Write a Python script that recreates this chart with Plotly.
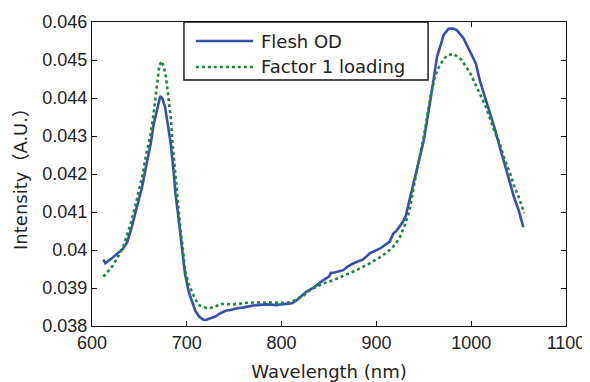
import plotly.graph_objects as go

# Flesh OD
flesh_nm = [612, 614, 621, 627, 633, 637, 642, 647, 653, 657, 662, 665, 669, 672, 674, 677, 680, 683,
            686, 688, 691, 693, 696, 698, 702, 706, 709, 713, 717, 720, 724, 730, 735, 741, 746, 752,
            760, 770, 784, 795, 800, 805, 811, 816, 821, 826, 835, 844, 850, 852, 855, 865, 870, 876,
            886, 893, 904, 911, 914, 918, 921, 928, 931, 935, 942, 950, 957, 964, 971, 976, 981, 985,
            992, 1000, 1005, 1009, 1015, 1020, 1025, 1030, 1035, 1041, 1045, 1050, 1055]
flesh_val = [0.03975, 0.03965, 0.03978, 0.0399, 0.04004, 0.0402, 0.04061, 0.0411, 0.04167, 0.0422,
             0.04281, 0.0433, 0.04377, 0.04405, 0.04400, 0.04377, 0.0433, 0.04281, 0.0421, 0.04149,
             0.0409, 0.04044, 0.0399, 0.03939, 0.0389, 0.0386, 0.0384, 0.03825, 0.03817, 0.03816,
             0.0382, 0.03825, 0.03833, 0.0384, 0.03842, 0.03846, 0.03849, 0.03854, 0.03857, 0.03855,
             0.03857, 0.03858, 0.0386, 0.03868, 0.0388, 0.0389, 0.03903, 0.03921, 0.0393, 0.0394,
             0.0394, 0.03947, 0.03957, 0.03965, 0.03975, 0.03991, 0.04004, 0.04015, 0.04022, 0.04044,
             0.0405, 0.04074, 0.0409, 0.04132, 0.04202, 0.04289, 0.04395, 0.04509, 0.04566, 0.04582,
             0.04583, 0.04578, 0.04557, 0.04518, 0.0449, 0.04447, 0.044, 0.0436, 0.04318, 0.04272,
             0.04225, 0.04176, 0.0414, 0.04105, 0.0406]

# Factor 1 loading
factor_nm = [612, 617, 621, 627, 633, 637, 642, 647, 653, 657, 662, 665, 669, 671, 673.5, 676, 678, 680,
             683, 685, 688, 690, 693, 696, 698, 702, 706, 709, 713, 717, 721, 726, 730, 737, 749, 767,
             784, 802, 810, 816, 823, 830, 844, 855, 865, 879, 893, 904, 914, 920, 925, 930, 935, 942,
             950, 957, 962, 967, 974, 981, 985, 990, 999, 1004, 1009, 1015, 1020, 1025, 1030, 1035,
             1041, 1045, 1050, 1056]
factor_val = [0.0393, 0.03945, 0.03956, 0.0398, 0.04009, 0.0404, 0.04079, 0.0413, 0.04193, 0.0425,
              0.04307, 0.0436, 0.04447, 0.04485, 0.04497, 0.0448, 0.04456, 0.0441, 0.04351, 0.0428,
              0.04193, 0.0413, 0.04061, 0.04, 0.03947, 0.0391, 0.03886, 0.0387, 0.03855, 0.0385,
              0.03847, 0.03848, 0.03851, 0.03858, 0.03857, 0.03862, 0.03862, 0.03861, 0.03863, 0.0387,
              0.0388, 0.03895, 0.03912, 0.03921, 0.03932, 0.03947, 0.03965, 0.03981, 0.04, 0.04015,
              0.04035, 0.04065, 0.04105, 0.04202, 0.04298, 0.04402, 0.0446, 0.04487, 0.04511, 0.04516,
              0.0451, 0.045, 0.04465, 0.0444, 0.04412, 0.0438, 0.04342, 0.0431, 0.04281, 0.0424,
              0.04202, 0.0417, 0.0414, 0.04097]

series_names = ["Flesh OD", "Factor 1 loading"]
series_colors = ["#3651ab", "#17873a"]

x_ticks = [600, 700, 800, 900, 1000, 1100]
x_tick_labels = ["600", "700", "800", "900", "1000", "1100"]
y_ticks = [0.038, 0.039, 0.040, 0.041, 0.042, 0.043, 0.044, 0.045, 0.046]
y_tick_labels = ["0.038", "0.039", "0.04", "0.041", "0.042", "0.043", "0.044", "0.045", "0.046"]

TICK_FONT = "Liberation Sans, Arial, sans-serif"
TEXT_FONT = "DejaVu Sans, Noto Sans CJK JP, sans-serif"

fig = go.Figure()
fig.add_trace(go.Scatter(x=flesh_nm, y=flesh_val, mode="lines", name=series_names[0],
                         line=dict(color=series_colors[0], width=2.6), showlegend=False))
fig.add_trace(go.Scatter(x=factor_nm, y=factor_val, mode="lines", name=series_names[1],
                         line=dict(color=series_colors[1], width=2.6, dash="dot"), showlegend=False))

axis_common = dict(showline=True, linecolor="#111", linewidth=1.2, mirror="ticks",
                   ticks="inside", ticklen=5, tickcolor="#111", showgrid=False, zeroline=False,
                   automargin=False, ticklabeloverflow="allow",
                   tickfont=dict(family=TICK_FONT, size=18, color="#222"))

# The page body adds an 8px offset, so the figure is 8px smaller on each axis.
fig.update_layout(
    width=582, height=374,
    margin=dict(l=84, r=24, t=14, b=56),
    paper_bgcolor="white", plot_bgcolor="white",
    font=dict(family=TEXT_FONT, color="#222"),
    xaxis=dict(range=[600, 1100], tickvals=x_ticks, ticktext=x_tick_labels,
               title=dict(text="Wavelength (nm)", font=dict(family=TEXT_FONT, size=18), standoff=17),
               **axis_common),
    yaxis=dict(range=[0.038, 0.046], tickvals=y_ticks, ticktext=y_tick_labels, **axis_common),
    showlegend=False,
)

# Y-axis title placed as rotated text left of the tick labels
fig.add_annotation(xref="paper", yref="paper", x=-0.152, y=0.5, text="Intensity\uff08A.U.\uff09",
                   textangle=-90, showarrow=False, xanchor="center", yanchor="middle",
                   font=dict(family=TEXT_FONT, size=18, color="#222"))

# Legend box drawn in the plot-area (paper) frame
box = dict(x0=0.194, x1=0.709, y0=0.809, y1=1.0)
fig.add_shape(type="rect", xref="paper", yref="paper", **box,
              line=dict(color="#111", width=1.4), fillcolor="white", layer="above")
rows_y = [0.9375, 0.852]
for name, color, dash, yy in zip(series_names, series_colors, ["solid", "dot"], rows_y):
    fig.add_shape(type="line", xref="paper", yref="paper", x0=0.219, x1=0.340, y0=yy, y1=yy,
                  line=dict(color=color, width=2.6, dash=dash), layer="above")
    fig.add_annotation(xref="paper", yref="paper", x=0.352, y=yy, text=name, showarrow=False,
                       xanchor="left", yanchor="middle",
                       font=dict(family=TEXT_FONT, size=18, color="#222"))

fig.write_html("out.html")
